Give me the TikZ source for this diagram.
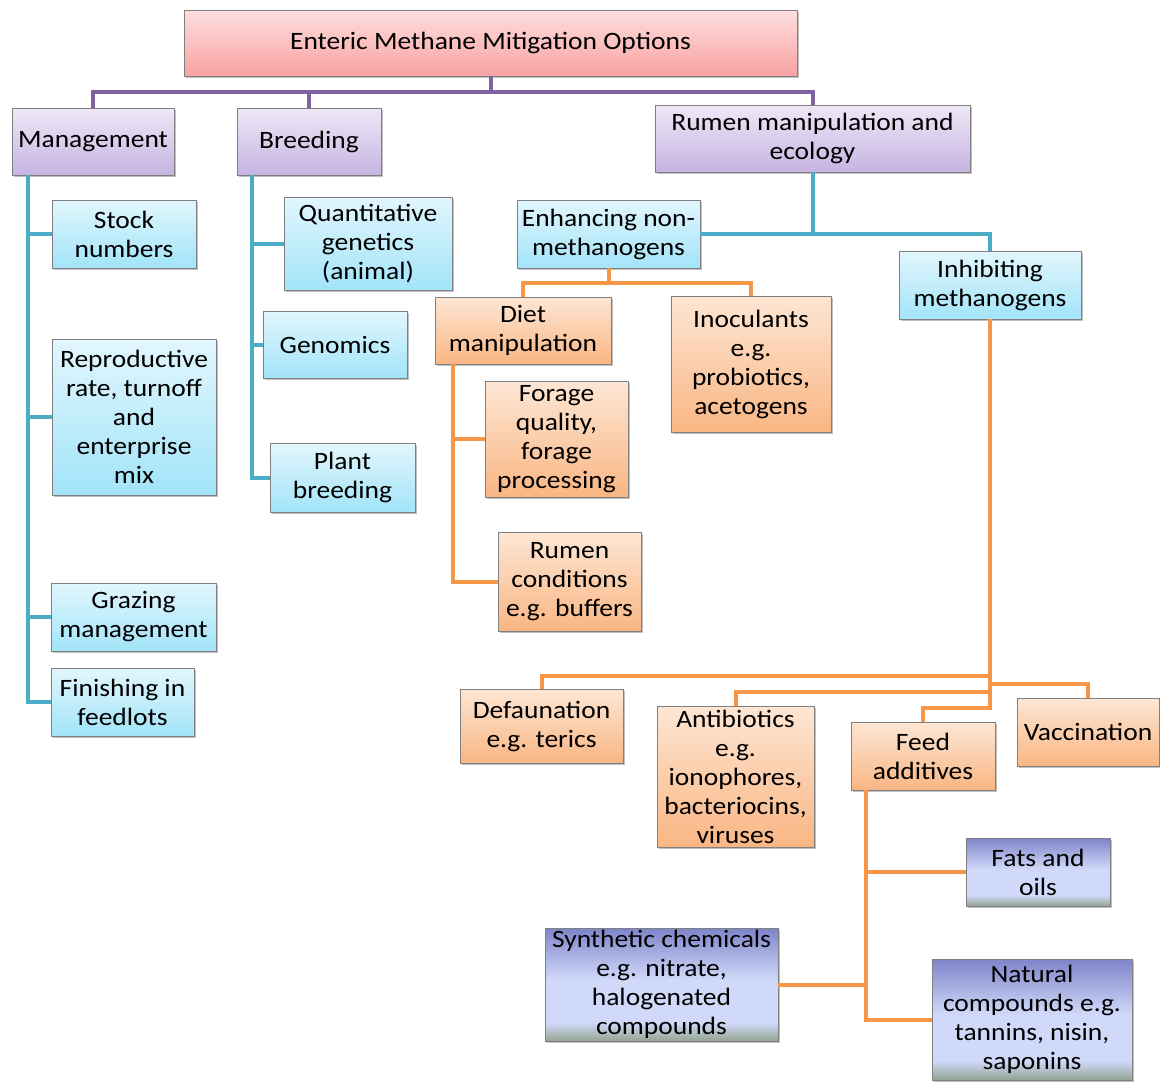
\documentclass[tikz,border=0pt]{standalone}
\usepackage{fontspec}
\setmainfont{Carlito}[FakeStretch=1.1]
\usetikzlibrary{shadows}
\definecolor{pinkT}{HTML}{FDDEDE}
\definecolor{pinkB}{HTML}{F9A2A2}
\definecolor{purT}{HTML}{EEE8F7}
\definecolor{purB}{HTML}{C6B4E1}
\definecolor{cyT}{HTML}{E2F6FD}
\definecolor{cyB}{HTML}{A2E4F9}
\definecolor{orT}{HTML}{FDE6D4}
\definecolor{orB}{HTML}{F9B683}
\definecolor{bpA}{HTML}{7E84C9}
\definecolor{bpB}{HTML}{D0D9F9}
\definecolor{bpC}{HTML}{93A492}
\definecolor{cPur}{HTML}{8064A2}
\definecolor{cBlue}{HTML}{4BACC6}
\definecolor{cOr}{HTML}{F79646}
\pgfdeclareverticalshading{bpshade}{100bp}{color(0bp)=(bpC); color(25bp)=(bpC); color(33bp)=(bpB); color(52bp)=(bpB); color(75bp)=(bpA); color(100bp)=(bpA)}
\newcommand{\boxnode}[7]{\node[#1, minimum width={(#5-#3)*0.75pt}, minimum height={(#6-#4)*0.75pt}] (#2) at ({(#3+#5)/2},{(#4+#6)/2}) {#7};}
\begin{document}
\begin{tikzpicture}[x=0.75pt,y=-0.75pt,
  box/.style={draw=black!50, line width=0.6pt, inner sep=0pt, align=center,
    font=\fontsize{18.75}{21.75}\selectfont,
    drop shadow={shadow xshift=1.5pt, shadow yshift=-1.5pt, opacity=0.35, fill=black!70}},
  pinkbox/.style={box, top color=pinkT, bottom color=pinkB},
  purbox/.style={box, top color=purT, bottom color=purB},
  cybox/.style={box, top color=cyT, bottom color=cyB},
  orbox/.style={box, top color=orT, bottom color=orB},
  bpbox/.style={box, shading=bpshade},
  conn/.style={line width=3pt},
  pconn/.style={conn, draw=cPur},
  bconn/.style={conn, draw=cBlue},
  oconn/.style={conn, draw=cOr}]
\useasboundingbox (0,0) rectangle (1160,1082);
% nodes
\boxnode{pinkbox}{title}{184}{10}{797}{76}{Enteric Methane Mitigation Options}
\boxnode{purbox}{mgmt}{12}{108}{174}{175}{Management}
\boxnode{purbox}{breed}{237}{108}{381}{175}{Breeding}
\boxnode{purbox}{rumen}{655}{105}{970}{172}{Rumen manipulation and\\ecology}
\boxnode{cybox}{stock}{52}{200}{196}{268}{Stock\\numbers}
\boxnode{cybox}{repro}{52}{339}{216}{495}{Reproductive\\rate, turnoff\\and\\enterprise\\mix}
\boxnode{cybox}{graz}{51}{583}{216}{651}{Grazing\\management}
\boxnode{cybox}{finish}{51}{668}{194}{736}{Finishing in\\feedlots}
\boxnode{cybox}{qg}{284}{197}{452}{290}{Quantitative\\genetics\\(animal)}
\boxnode{cybox}{genom}{263}{311}{407}{378}{Genomics}
\boxnode{cybox}{plant}{270}{443}{415}{512}{Plant\\breeding}
\boxnode{cybox}{enh}{517}{200}{700}{268}{Enhancing non-\\methanogens}
\boxnode{cybox}{inhib}{899}{251}{1081}{319}{Inhibiting\\methanogens}
\boxnode{orbox}{diet}{435}{297}{611}{364}{Diet\\manipulation}
\boxnode{orbox}{inoc}{671}{296}{831}{432}{Inoculants\\e.g.\\probiotics,\\acetogens}
\boxnode{orbox}{forage}{485}{381}{628}{497}{Forage\\quality,\\forage\\processing}
\boxnode{orbox}{rcond}{498}{532}{641}{631}{Rumen\\conditions\\e.g. buffers}
\boxnode{orbox}{defaun}{460}{689}{623}{763}{Defaunation\\e.g. terics}
\boxnode{orbox}{antib}{657}{706}{814}{847}{Antibiotics\\e.g.\\ionophores,\\bacteriocins,\\viruses}
\boxnode{orbox}{feed}{851}{722}{995}{790}{Feed\\additives}
\boxnode{orbox}{vacc}{1017}{698}{1159}{766}{Vaccination}
\boxnode{bpbox}{fats}{966}{838}{1110}{906}{Fats and\\oils}
\boxnode{bpbox}{synth}{545}{928}{778}{1041}{Synthetic chemicals\\e.g. nitrate,\\halogenated\\compounds}
\boxnode{bpbox}{natural}{932}{959}{1132}{1080}{Natural\\compounds e.g.\\tannins, nisin,\\saponins}
% purple level
\coordinate (pbus) at (title.south |- 0,92);
\draw[pconn] (title.south) -- (pbus);
\draw[pconn] (mgmt.north) |- (pbus) -| (rumen.north);
\draw[pconn] (breed.north) -- (breed.north |- pbus);
% management
\coordinate (mt) at ([xshift=12pt]mgmt.south west);
\draw[bconn] (mt) |- (finish.west);
\draw[bconn] (mt |- stock.west) -- (stock.west);
\draw[bconn] (mt |- repro.west) -- (repro.west);
\draw[bconn] (mt |- graz.west) -- (graz.west);
% breeding
\coordinate (bt) at ([xshift=11.25pt]breed.south west);
\draw[bconn] (bt) |- (plant.west);
\draw[bconn] (bt |- qg.west) -- (qg.west);
\draw[bconn] (bt |- genom.west) -- (genom.west);
% rumen
\draw[bconn] (rumen.south) |- (enh.east);
\draw[bconn] (rumen.south |- enh.east) -| (inhib.north);
% enhancing
\coordinate (obus) at (enh.south |- 0,283);
\draw[oconn] (enh.south) -- (obus);
\draw[oconn] (diet.north) |- (obus) -| (inoc.north);
% diet
\coordinate (dt) at ([xshift=13.5pt]diet.south west);
\draw[oconn] (dt) |- (rcond.west);
\draw[oconn] (dt |- forage.west) -- (forage.west);
% inhibiting
\draw[oconn] (inhib.south) -- (inhib.south |- 0,708) -| (feed.north);
\draw[oconn] (inhib.south |- 0,676) -| (defaun.north);
\draw[oconn] (inhib.south |- 0,692) -| (antib.north);
\draw[oconn] (inhib.south |- 0,684) -| (vacc.north);
% feed additives
\coordinate (ft) at ([xshift=11.25pt]feed.south west);
\draw[oconn] (ft) |- (natural.west);
\draw[oconn] (ft |- fats.west) -- (fats.west);
\draw[oconn] (ft |- synth.east) -- (synth.east);
\end{tikzpicture}
\end{document}
